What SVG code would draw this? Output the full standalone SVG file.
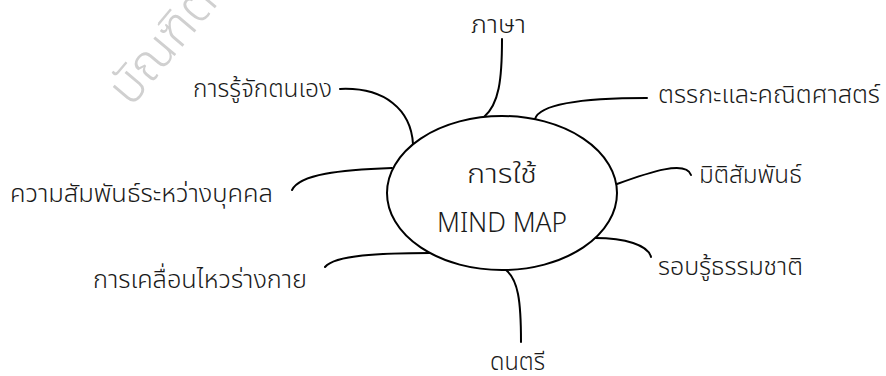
<svg xmlns="http://www.w3.org/2000/svg" width="886" height="376" viewBox="0 0 886 376">
<style>
.lbl{font-family:"Noto Sans","Noto Sans Thai","DejaVu Sans",sans-serif;font-size:25px;fill:#1a1a1a;font-weight:300}
.ctr{font-family:"Noto Sans","Noto Sans Thai","DejaVu Sans",sans-serif;font-size:27px;fill:#1a1a1a;font-weight:300}
.wm{font-family:"Noto Sans","Noto Sans Thai","DejaVu Sans",sans-serif;font-size:50px;fill:#d0d0d0;font-weight:300}
.c{fill:none;stroke:#000;stroke-width:2;stroke-linecap:round}
</style>
<rect width="886" height="376" fill="#fff"/>
<text class="wm" transform="translate(131,108) rotate(-50)">บัณฑิต</text>
<g id="connectors">
<path class="c" d="M502,39 C502,80 499,104 484,117"/>
<path class="c" d="M647,98 C590,98 540,103 535,119"/>
<path class="c" d="M340,89 C385,87 411,110 413,144"/>
<path class="c" d="M292,190 C300,174 340,170 392,168"/>
<path class="c" d="M325,267 C335,255 380,253 430,253"/>
<path class="c" d="M617,184 C650,172 686,160 691,175"/>
<path class="c" d="M595,238 C625,238 648,245 651,257"/>
<path class="c" d="M506,270 C518,280 521,300 521,342"/>
</g>
<g id="center">
<ellipse cx="502" cy="193" rx="115" ry="77" fill="#fff" stroke="#000" stroke-width="2"/>
<text class="ctr" x="467" y="183" textLength="70" lengthAdjust="spacingAndGlyphs">การใช้</text>
<text class="ctr" x="437" y="232" textLength="130" lengthAdjust="spacingAndGlyphs">MIND MAP</text>
</g>
<g id="n-phasa"><text class="lbl" x="471" y="33" textLength="55" lengthAdjust="spacingAndGlyphs">ภาษา</text></g>
<g id="n-logic"><text class="lbl" x="658" y="103" textLength="222" lengthAdjust="spacingAndGlyphs">ตรรกะและคณิตศาสตร์</text></g>
<g id="n-self"><text class="lbl" x="193" y="97" textLength="139" lengthAdjust="spacingAndGlyphs">การรู้จักตนเอง</text></g>
<g id="n-inter"><text class="lbl" x="10" y="202" textLength="263" lengthAdjust="spacingAndGlyphs">ความสัมพันธ์ระหว่างบุคคล</text></g>
<g id="n-body"><text class="lbl" x="93" y="288" textLength="214" lengthAdjust="spacingAndGlyphs">การเคลื่อนไหวร่างกาย</text></g>
<g id="n-space"><text class="lbl" x="699" y="183" textLength="103" lengthAdjust="spacingAndGlyphs">มิติสัมพันธ์</text></g>
<g id="n-nature"><text class="lbl" x="658" y="275" textLength="145" lengthAdjust="spacingAndGlyphs">รอบรู้ธรรมชาติ</text></g>
<g id="n-music"><text class="lbl" x="490" y="370" textLength="55" lengthAdjust="spacingAndGlyphs">ดนตรี</text></g>
</svg>
